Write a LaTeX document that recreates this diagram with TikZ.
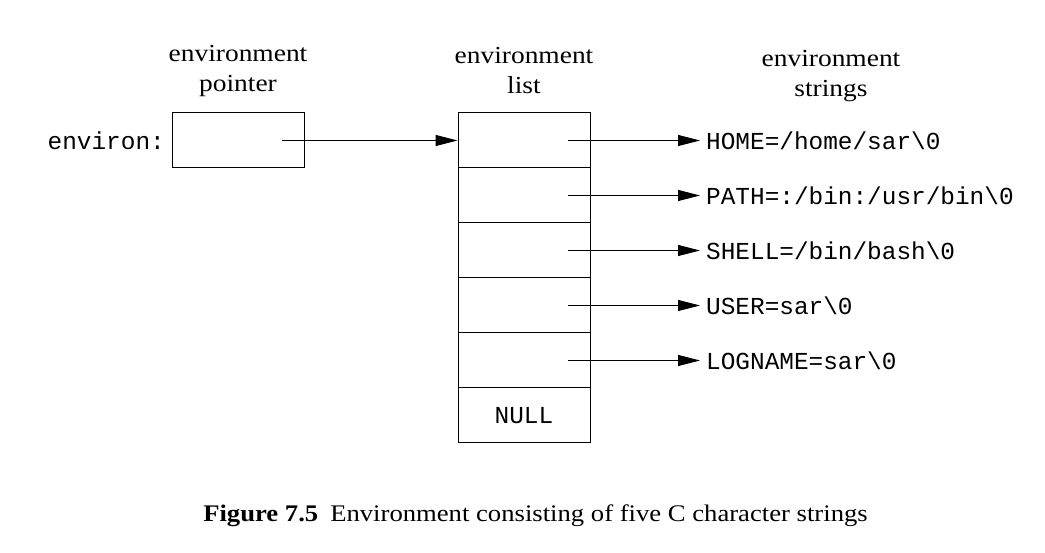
\documentclass[tikz,border=0pt]{standalone}
\usepackage{fontspec}
\setmainfont[FakeStretch=1.12]{Liberation Serif}
\setmonofont{Liberation Mono}
\usetikzlibrary{arrows.meta}
\begin{document}
\begin{tikzpicture}[x=1pt,y=-1pt,
  cell/.style={draw,line width=1pt,minimum width=132pt,minimum height=55pt,inner sep=0pt},
  arr/.style={line width=1pt,-{Triangle[length=22pt,width=11pt]}},
  lbl/.style={align=center,inner sep=0pt,font=\fontsize{24.5}{30}\selectfont},
  mono/.style={font=\fontsize{24.4}{30}\ttfamily},
  str/.style={mono,anchor=west,inner xsep=6pt,inner ysep=0pt}]
\useasboundingbox (0,0) rectangle (1045,553);
% labels
\node[lbl] (lp) at (238,71) {environment\\pointer};
\node[lbl] (ll) at (524,71) {environment\\list};
\node[lbl] (ls) at (831,76) {environment\\strings};
% pointer box
\node[cell] (ptr) at (238,140.5) {};
\node[mono,anchor=east,inner sep=0pt] (env) at (165,140.5) {environ:};
\coordinate (p) at (282,140.5);
% list cells
\node[cell] (c1) at (524,140.5) {};
\node[cell] (c2) at (524,195.5) {};
\node[cell] (c3) at (524,250.5) {};
\node[cell] (c4) at (524,305.5) {};
\node[cell] (c5) at (524,360.5) {};
\node[cell,mono] (c6) at (524,415.5) {NULL};
\draw[arr] (p) -- (c1.west);
% strings
\node[str] (t1) at (700,140.5) {HOME=/home/sar\textbackslash 0};
\node[str] (t2) at (700,195.5) {PATH=:/bin:/usr/bin\textbackslash 0};
\node[str] (t3) at (700,250.5) {SHELL=/bin/bash\textbackslash 0};
\node[str] (t4) at (700,305.5) {USER=sar\textbackslash 0};
\node[str] (t5) at (700,360.5) {LOGNAME=sar\textbackslash 0};
\foreach \i/\y in {1/140.5,2/195.5,3/250.5,4/305.5,5/360.5}{
  \coordinate (s\i) at (568,\y);
  \draw[arr] (s\i) -- (t\i.west);
}
% caption
\node[anchor=base,inner sep=0pt,font=\fontsize{23.8}{30}\selectfont] (cap) at (535.5,521)
  {\textbf{Figure 7.5}\hspace{12pt}Environment consisting of five C character strings};
\end{tikzpicture}
\end{document}
